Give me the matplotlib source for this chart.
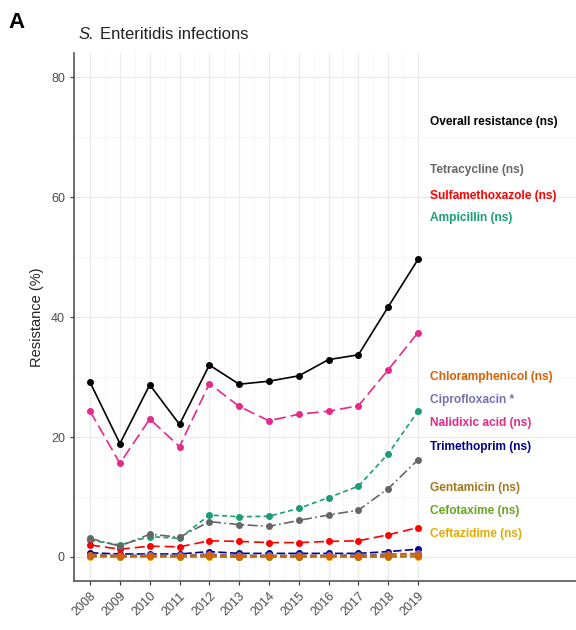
import matplotlib
matplotlib.use("Agg")
import matplotlib.pyplot as plt
import numpy as np

plt.rcParams['font.family'] = ['Liberation Sans', 'DejaVu Sans']

years = [2008, 2009, 2010, 2011, 2012, 2013, 2014, 2015, 2016, 2017, 2018, 2019]

overall = [29.1, 18.9, 28.7, 22.1, 32.0, 28.8, 29.3, 30.2, 32.9, 33.7, 41.7, 49.6]
tetracycline = [3.1, 1.8, 3.8, 3.3, 5.9, 5.4, 5.1, 6.1, 7.0, 7.8, 11.4, 16.2]
sulfamethoxazole = [2.0, 1.3, 1.8, 1.7, 2.7, 2.6, 2.4, 2.4, 2.6, 2.7, 3.7, 4.9]
ampicillin = [2.8, 2.0, 3.4, 3.1, 7.0, 6.7, 6.8, 8.1, 9.9, 11.8, 17.2, 24.3]
chloramphenicol = [0.3, 0.2, 0.2, 0.2, 0.3, 0.2, 0.2, 0.2, 0.2, 0.2, 0.3, 0.4]
ciprofloxacin = [0.4, 0.3, 0.3, 0.3, 0.5, 0.3, 0.3, 0.3, 0.3, 0.4, 0.5, 0.6]
nalidixic = [24.3, 15.6, 23.0, 18.4, 28.9, 25.1, 22.7, 23.8, 24.3, 25.2, 31.2, 37.4]
trimethoprim = [0.7, 0.5, 0.5, 0.5, 0.9, 0.6, 0.6, 0.6, 0.6, 0.6, 0.9, 1.3]
gentamicin = [0.1, 0.1, 0.1, 0.1, 0.1, 0.0, 0.1, 0.0, 0.1, 0.0, 0.1, 0.1]
cefotaxime = [0.1, 0.0, 0.1, 0.0, 0.1, 0.0, 0.0, 0.0, 0.1, 0.0, 0.0, 0.1]
ceftazidime = [0.0, 0.0, 0.0, 0.0, 0.0, 0.0, 0.0, 0.0, 0.0, 0.0, 0.0, 0.0]

labels = ["Overall resistance (ns)", "Tetracycline (ns)", "Sulfamethoxazole (ns)",
          "Ampicillin (ns)", "Chloramphenicol (ns)", "Ciprofloxacin *",
          "Nalidixic acid (ns)", "Trimethoprim (ns)", "Gentamicin (ns)",
          "Cefotaxime (ns)", "Ceftazidime (ns)"]
label_y = [72.5, 64.5, 60.2, 56.5, 30.0, 26.2, 22.3, 18.3, 11.5, 7.7, 3.8]

series = [overall, tetracycline, sulfamethoxazole, ampicillin, chloramphenicol,
          ciprofloxacin, nalidixic, trimethoprim, gentamicin, cefotaxime, ceftazidime]
colors = ["#000000", "#666666", "#FF0000", "#1B9E77", "#D95F02", "#7570B3",
          "#E7298A", "#00008B", "#A6761D", "#66A61E", "#E6AB02"]
styles = ["-", (0, (6, 2, 1, 2)), (0, (6, 3)), (0, (3, 2)), (0, (4, 2)),
          (0, (4, 2)), (0, (7, 3)), (0, (5, 2)), (0, (4, 2)), (0, (4, 2)), (0, (4, 2))]

fig = plt.figure(figsize=(5.76, 6.3), dpi=100)
ax = fig.add_axes([0.1285, 0.0778, 0.8715, 0.838])

ax.set_xlim(2007.46, 2024.3)
ax.set_ylim(-4.0, 84.0)

# grid
for v in [0, 20, 40, 60, 80]:
    ax.axhline(v, color="#EBEBEB", lw=0.9, zorder=0)
for v in [10, 30, 50, 70]:
    ax.axhline(v, color="#F5F5F5", lw=0.6, zorder=0)
for y in years:
    ax.axvline(y, color="#EBEBEB", lw=0.9, zorder=0)
for y in years[:-1]:
    ax.axvline(y + 0.5, color="#F5F5F5", lw=0.6, zorder=0)

draw_order = list(range(len(series)))[::-1]
for i in draw_order:
    ax.plot(years, series[i], color=colors[i], linestyle=styles[i], lw=1.2,
            marker="o", markersize=4, zorder=3 + (len(series) - i) * 0.01)

for lab, yv, c in zip(labels, label_y, colors):
    ax.text(2019.4, yv, lab, color=c, fontsize=8.6, fontweight="bold",
            va="center", ha="left")

ax.set_xticks(years)
ax.set_xticklabels([str(y) for y in years], rotation=45, ha="right",
                   rotation_mode="anchor", fontsize=9, color="#4D4D4D")
ax.set_yticks([0, 20, 40, 60, 80])
ax.set_yticklabels(["0", "20", "40", "60", "80"], fontsize=9, color="#4D4D4D")
ax.tick_params(axis="both", length=3, color="#333333", width=0.8)

for s in ["top", "right"]:
    ax.spines[s].set_visible(False)
for s in ["left", "bottom"]:
    ax.spines[s].set_color("#555555")
    ax.spines[s].set_linewidth(1.2)

ax.set_ylabel("Resistance (%)", fontsize=10.5, color="#222222", labelpad=5)

fig.text(0.1355, 0.946, "S.", fontsize=12, style="italic", color="#222222",
         va="center", ha="left")
fig.text(0.1735, 0.946, "Enteritidis infections", fontsize=12, color="#222222",
         va="center", ha="left")
fig.text(0.015, 0.964, "A", fontsize=16, fontweight="bold", color="#000000",
         va="center", ha="left")

fig.savefig("out.png", dpi=100)
